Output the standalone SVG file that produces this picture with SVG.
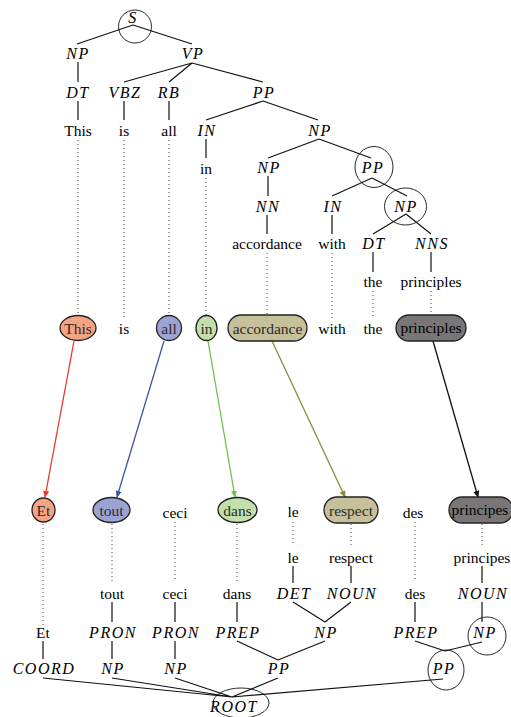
<svg xmlns="http://www.w3.org/2000/svg" width="511" height="717" viewBox="0 0 511 717" font-family="'Liberation Serif', 'DejaVu Serif', serif">
<defs>
<style>
text{font-family:'Liberation Serif','DejaVu Serif',serif;font-size:15.5px;text-anchor:middle;dominant-baseline:central;fill:#000}
.t{font-style:italic;font-size:16px;letter-spacing:1.5px}
.in{fill:#2a2a2a}
.e{stroke:#111;stroke-width:1.2;fill:none}
.d{stroke:#444;stroke-width:1;stroke-dasharray:1 3;fill:none}
.c{stroke:#111;stroke-width:0.9;fill:none}
.n{stroke:#222;stroke-width:1.3}
</style>
<marker id="mr" viewBox="0 0 8 8" refX="7" refY="4" markerWidth="7" markerHeight="7" orient="auto" markerUnits="userSpaceOnUse"><path d="M0,0.5 L8,4 L0,7.5 z" fill="#e8392a"/></marker>
<marker id="mb" viewBox="0 0 8 8" refX="7" refY="4" markerWidth="7" markerHeight="7" orient="auto" markerUnits="userSpaceOnUse"><path d="M0,0.5 L8,4 L0,7.5 z" fill="#3b57a8"/></marker>
<marker id="mg" viewBox="0 0 8 8" refX="7" refY="4" markerWidth="7" markerHeight="7" orient="auto" markerUnits="userSpaceOnUse"><path d="M0,0.5 L8,4 L0,7.5 z" fill="#6cc24a"/></marker>
<marker id="mo" viewBox="0 0 8 8" refX="7" refY="4" markerWidth="7" markerHeight="7" orient="auto" markerUnits="userSpaceOnUse"><path d="M0,0.5 L8,4 L0,7.5 z" fill="#8a8a3c"/></marker>
<marker id="mk" viewBox="0 0 8 8" refX="7" refY="4" markerWidth="7" markerHeight="7" orient="auto" markerUnits="userSpaceOnUse"><path d="M0,0.5 L8,4 L0,7.5 z" fill="#111"/></marker>
</defs>
<rect width="511" height="717" fill="#fff"/>

<g id="connectors">
<path class="e" d="M133,25 L77,44 M133,25 L192,44 M78,62 L78,82 M192,63 L124,82 M192,63 L169,82 M192,63 L263,82 M78,101 L78,120 M124,101 L124,120 M169,101 L169,120 M263,101 L206,120 M263,101 L318,120 M206,139 L206,158 M319,139 L268,158 M319,139 L371,158 M268,176 L268,196 M372,178 L332,196 M372,178 L407,196 M267,215 L267,234 M332,215 L332,234 M406,214 L373,234 M406,214 L431,234 M373,252 L373,272 M431,252 L431,272"/>
<path class="d" d="M78,140 L78,314 M124,140 L124,318 M169,140 L169,315 M206,178 L206,315 M267,253 L267,314 M332,253 L332,318 M373,291 L373,318 M431,291 L431,314"/>
<line x1="74" y1="341" x2="45" y2="497" stroke="#e8392a" stroke-width="1.3" marker-end="url(#mr)"/>
<line x1="164" y1="341" x2="117" y2="497" stroke="#3b57a8" stroke-width="1.3" marker-end="url(#mb)"/>
<line x1="208" y1="341" x2="235" y2="497" stroke="#6cc24a" stroke-width="1.3" marker-end="url(#mg)"/>
<line x1="272" y1="341" x2="345" y2="497" stroke="#8a8a3c" stroke-width="1.3" marker-end="url(#mo)"/>
<line x1="433" y1="341" x2="478" y2="497" stroke="#111" stroke-width="1.3" marker-end="url(#mk)"/>
<path class="d" d="M43,524 L43,625 M112,524 L112,582 M175,522 L175,582 M237,524 L237,582 M293,522 L293,546 M351,524 L351,546 M415,522 L415,582 M482,524 L482,546"/>
<path class="e" d="M293,566 L293,583 M351,566 L351,583 M482,566 L482,583 M112,602 L112,622 M175,602 L175,622 M237,602 L237,622 M293,602 L325,622 M351,602 L325,622 M415,602 L415,622 M482,602 L482,622 M43,641 L43,659 M112,641 L112,659 M175,641 L175,659 M237,641 L278,660 M325,641 L278,660 M415,641 L445,651 M482,642 L445,651 M43,678 L232,697 M112,678 L232,697 M175,678 L232,697 M278,678 L232,697 M443,679 L232,697"/>
</g>

<g id="s_S"><text class="t" x="133" y="17">S</text><circle class="c" cx="135" cy="26.5" r="16.5"/></g>
<g id="s_NP1"><text class="t" x="78" y="53">NP</text></g>
<g id="s_VP"><text class="t" x="193" y="53">VP</text></g>
<g id="s_DT1"><text class="t" x="78" y="92">DT</text></g>
<g id="s_VBZ"><text class="t" x="125" y="92">VBZ</text></g>
<g id="s_RB"><text class="t" x="169" y="92">RB</text></g>
<g id="s_PP1"><text class="t" x="264" y="92">PP</text></g>
<g id="s_This"><text x="78" y="130">This</text></g>
<g id="s_is"><text x="124" y="130">is</text></g>
<g id="s_all"><text x="169" y="130">all</text></g>
<g id="s_IN1"><text class="t" x="207" y="130">IN</text></g>
<g id="s_NP2"><text class="t" x="320" y="130">NP</text></g>
<g id="s_in"><text x="206" y="168">in</text></g>
<g id="s_NP3"><text class="t" x="269" y="167">NP</text></g>
<g id="s_PP2"><text class="t" x="373" y="167">PP</text><ellipse class="c" cx="374" cy="167" rx="19" ry="20.5"/></g>
<g id="s_NN"><text class="t" x="268" y="206">NN</text></g>
<g id="s_IN2"><text class="t" x="333" y="206">IN</text></g>
<g id="s_NP4"><text class="t" x="406" y="206">NP</text><ellipse class="c" cx="405.5" cy="206.5" rx="21" ry="18.5"/></g>
<g id="s_accordance"><text x="267" y="243">accordance</text></g>
<g id="s_with"><text x="332" y="243">with</text></g>
<g id="s_DT2"><text class="t" x="374" y="243">DT</text></g>
<g id="s_NNS"><text class="t" x="432" y="243">NNS</text></g>
<g id="s_the"><text x="373" y="281">the</text></g>
<g id="s_principles"><text x="431" y="281">principles</text></g>

<g id="w_This"><ellipse class="n" cx="78" cy="328" rx="18" ry="12.5" fill="#f5a385"/><text class="in" x="78" y="328">This</text></g>
<g id="w_is"><text x="124" y="328">is</text></g>
<g id="w_all"><ellipse class="n" cx="169" cy="328" rx="12.5" ry="12.5" fill="#9ca3d4"/><text class="in" x="169" y="328">all</text></g>
<g id="w_in"><ellipse class="n" cx="206.5" cy="328" rx="10.5" ry="12.5" fill="#c2e0ac"/><text class="in" x="206.5" y="328">in</text></g>
<g id="w_accordance"><rect class="n" x="228" y="315" width="79" height="26" rx="13" fill="#c6c09b"/><text class="in" x="267.5" y="328">accordance</text></g>
<g id="w_with"><text x="332" y="328">with</text></g>
<g id="w_the"><text x="373" y="328">the</text></g>
<g id="w_principles"><rect class="n" x="396" y="315" width="70" height="26" rx="13" fill="#787676"/><text x="431" y="327" fill="#1a1a1a">principles</text></g>

<g id="w_Et"><ellipse class="n" cx="43.5" cy="510" rx="11.5" ry="12" fill="#f5a385"/><text class="in" x="43.5" y="510">Et</text></g>
<g id="w_tout"><ellipse class="n" cx="111.5" cy="510" rx="18.5" ry="12.5" fill="#9ca3d4"/><text class="in" x="111.5" y="510">tout</text></g>
<g id="w_ceci"><text x="175" y="512">ceci</text></g>
<g id="w_dans"><ellipse class="n" cx="237.5" cy="510" rx="19.5" ry="12.5" fill="#c2e0ac"/><text class="in" x="237.5" y="510">dans</text></g>
<g id="w_le"><text x="293" y="511">le</text></g>
<g id="w_respect"><rect class="n" x="324" y="497" width="54" height="26" rx="13" fill="#c6c09b"/><text class="in" x="351" y="510">respect</text></g>
<g id="w_des"><text x="413" y="512">des</text></g>
<g id="w_principes"><rect class="n" x="449" y="497" width="64" height="26" rx="13" fill="#787676"/><text x="480" y="509" fill="#1a1a1a">principes</text></g>

<g id="t_le"><text x="293" y="557">le</text></g>
<g id="t_respect"><text x="351" y="557">respect</text></g>
<g id="t_principes"><text x="482" y="557">principes</text></g>
<g id="t_tout"><text x="112" y="593">tout</text></g>
<g id="t_ceci"><text x="175" y="593">ceci</text></g>
<g id="t_dans"><text x="237" y="593">dans</text></g>
<g id="t_DET"><text class="t" x="294" y="593">DET</text></g>
<g id="t_NOUN1"><text class="t" x="352" y="593">NOUN</text></g>
<g id="t_des"><text x="415" y="593">des</text></g>
<g id="t_NOUN2"><text class="t" x="483" y="593">NOUN</text></g>
<g id="t_Et"><text x="43" y="632">Et</text></g>
<g id="t_PRON1"><text class="t" x="113" y="632">PRON</text></g>
<g id="t_PRON2"><text class="t" x="176" y="632">PRON</text></g>
<g id="t_PREP1"><text class="t" x="238" y="632">PREP</text></g>
<g id="t_NP1"><text class="t" x="326" y="632">NP</text></g>
<g id="t_PREP2"><text class="t" x="416" y="632">PREP</text></g>
<g id="t_NP2"><text class="t" x="485" y="632">NP</text><circle class="c" cx="487" cy="636" r="19"/></g>
<g id="t_COORD"><text class="t" x="44" y="668">COORD</text></g>
<g id="t_NP3"><text class="t" x="113" y="668">NP</text></g>
<g id="t_NP4"><text class="t" x="176" y="668">NP</text></g>
<g id="t_PP1"><text class="t" x="279" y="668">PP</text></g>
<g id="t_PP2"><text class="t" x="444" y="668">PP</text><ellipse class="c" cx="446" cy="670" rx="18" ry="20"/></g>
<g id="t_ROOT"><text class="t" x="234" y="706">ROOT</text><ellipse class="c" cx="241" cy="703" rx="28" ry="15"/></g>
</svg>
